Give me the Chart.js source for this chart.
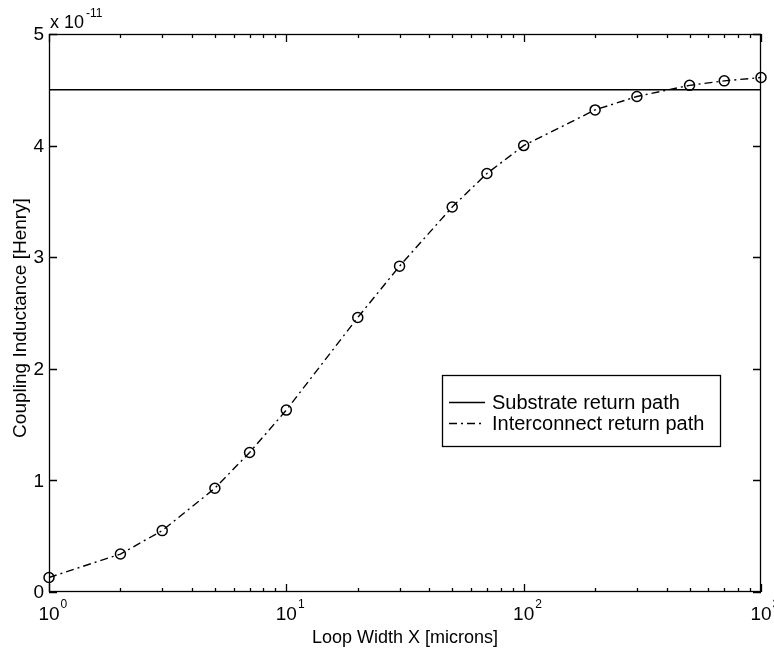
<!DOCTYPE html>
<html>
<head>
<meta charset="utf-8">
<title>Coupling Inductance vs Loop Width</title>
<script src="https://cdn.jsdelivr.net/npm/chart.js@4.4.1/dist/chart.umd.min.js"></script>
<style>
    body { margin: 0; background: #fff; }
    canvas { display: block; }
</style>
</head>
<body>
<canvas id="chart" width="774" height="650"></canvas>
<script>
// loop width X [microns]
const loopWidth = [1, 2, 3, 5, 7, 10, 20, 30, 50, 70, 100, 200, 300, 500, 700, 1000]
// coupling inductance, in units of 1e-11 H
const interconnectL = [0.13, 0.34, 0.55, 0.93, 1.25, 1.63, 2.46, 2.92, 3.45, 3.75, 4.0, 4.32, 4.44, 4.54, 4.58, 4.61]
const substrateX = [1, 1000]
const substrateL = [4.5, 4.5]

const seriesNames = ["Substrate return path", "Interconnect return path"]
const xTicks = [1, 10, 100, 1000]
const xTickExp = ["0", "1", "2", "3"]
const xMinorSteps = [2, 3, 4, 5, 6, 7, 8, 9]
const yTicks = [0, 1, 2, 3, 4, 5]
const yScaleExp = "-11"
const xTitle = "Loop Width X [microns]"
const yTitle = "Coupling Inductance [Henry]"

const FONT = "'Liberation Sans', Arial, Helvetica, sans-serif"
const DASHDOT = [8, 4, 2, 4]

function toPoints(xs, ys) {
    return xs.map((v, i) => ({ x: v, y: ys[i] }))
}

// MATLAB-like box, inward ticks, labels and legend
const matlabAxes = {
    id: "matlabAxes",
    beforeDatasetsDraw(chart) {
        const { ctx, chartArea: a, scales } = chart
        const x = scales.x
        const y = scales.y
        ctx.save()
        ctx.strokeStyle = "#000"
        ctx.lineWidth = 1.3
        ctx.strokeRect(a.left + 0.5, a.top + 0.5, a.right - a.left - 1, a.bottom - a.top - 1)

        ctx.beginPath()
        xTicks.forEach((d, i) => {
            const px = Math.round(x.getPixelForValue(d)) + 0.5
            ctx.moveTo(px, a.bottom); ctx.lineTo(px, a.bottom - 8)
            ctx.moveTo(px, a.top); ctx.lineTo(px, a.top + 8)
            if (i === xTicks.length - 1) return
            xMinorSteps.forEach(m => {
                const mx = Math.round(x.getPixelForValue(d * m)) + 0.5
                ctx.moveTo(mx, a.bottom); ctx.lineTo(mx, a.bottom - 4)
                ctx.moveTo(mx, a.top); ctx.lineTo(mx, a.top + 4)
            })
        })
        yTicks.forEach(v => {
            const py = Math.round(y.getPixelForValue(v)) + 0.5
            ctx.moveTo(a.left, py); ctx.lineTo(a.left + 8, py)
            ctx.moveTo(a.right, py); ctx.lineTo(a.right - 8, py)
        })
        ctx.stroke()

        ctx.fillStyle = "#000"
        // x tick labels 10^n
        xTicks.forEach((d, i) => {
            const px = x.getPixelForValue(d)
            ctx.font = "19px " + FONT
            ctx.textAlign = "center"
            ctx.textBaseline = "alphabetic"
            const w = ctx.measureText("10").width
            ctx.fillText("10", px, 620)
            ctx.font = "12px " + FONT
            ctx.textAlign = "left"
            ctx.fillText(xTickExp[i], px + w / 2 + 1, 608)
        })
        // y tick labels
        ctx.font = "19px " + FONT
        ctx.textAlign = "right"
        ctx.textBaseline = "middle"
        yTicks.forEach(v => {
            ctx.fillText(String(v), a.left - 5, y.getPixelForValue(v) + 1)
        })
        // x 10^-11
        ctx.font = "18px " + FONT
        ctx.textAlign = "left"
        ctx.textBaseline = "alphabetic"
        ctx.fillText("x 10", a.left + 1, 28)
        const w10 = ctx.measureText("x 10").width
        ctx.font = "12px " + FONT
        ctx.fillText(yScaleExp, a.left + 1 + w10 + 2, 17)

        // axis titles
        ctx.font = "18px " + FONT
        ctx.textAlign = "center"
        ctx.fillText(xTitle, (a.left + a.right) / 2, 643)
        ctx.save()
        ctx.translate(21, (a.top + a.bottom) / 2 + 5)
        ctx.rotate(-Math.PI / 2)
        ctx.textBaseline = "middle"
        ctx.font = "19px " + FONT
        ctx.fillText(yTitle, 0, 0)
        ctx.restore()
        ctx.restore()
    },
    afterDraw(chart) {
        const { ctx } = chart
        const box = { left: 442, top: 375, right: 721, bottom: 447 }
        ctx.save()
        ctx.fillStyle = "#fff"
        ctx.fillRect(box.left, box.top, box.right - box.left, box.bottom - box.top)
        ctx.strokeStyle = "#000"
        ctx.lineWidth = 1.3
        ctx.strokeRect(box.left + 0.5, box.top + 0.5, box.right - box.left - 1, box.bottom - box.top - 1)

        const rows = [402, 423]
        chart.data.datasets.forEach((ds, i) => {
            ctx.beginPath()
            ctx.setLineDash(ds.borderDash || [])
            ctx.lineWidth = ds.borderWidth
            ctx.moveTo(449, rows[i] + 0.5)
            ctx.lineTo(485, rows[i] + 0.5)
            ctx.stroke()
            ctx.setLineDash([])
            ctx.fillStyle = "#000"
            ctx.font = "20px " + FONT
            ctx.textAlign = "left"
            ctx.textBaseline = "middle"
            ctx.fillText(ds.label, 492, rows[i] + 1)
        })
        ctx.restore()
    }
}

new Chart(document.getElementById("chart"), {
    type: "line",
    data: {
        datasets: [
            {
                label: seriesNames[0],
                data: toPoints(substrateX, substrateL),
                borderColor: "#000",
                borderWidth: 1.4,
                pointRadius: 0,
                tension: 0
            },
            {
                label: seriesNames[1],
                data: toPoints(loopWidth, interconnectL),
                borderColor: "#000",
                borderWidth: 1.4,
                borderDash: DASHDOT,
                tension: 0,
                pointStyle: "circle",
                pointRadius: 5,
                pointBorderWidth: 1.5,
                pointBorderColor: "#000",
                pointBackgroundColor: "rgba(0,0,0,0)",
                clip: false
            }
        ]
    },
    options: {
        responsive: false,
        animation: false,
        events: [],
        layout: { padding: { left: 49, top: 34, right: 13, bottom: 58 } },
        plugins: {
            legend: { display: false },
            tooltip: { enabled: false }
        },
        scales: {
            x: { type: "logarithmic", min: 1, max: 1000, display: false },
            y: { type: "linear", min: 0, max: 5, display: false }
        }
    },
    plugins: [matlabAxes]
})
</script>
</body>
</html>
